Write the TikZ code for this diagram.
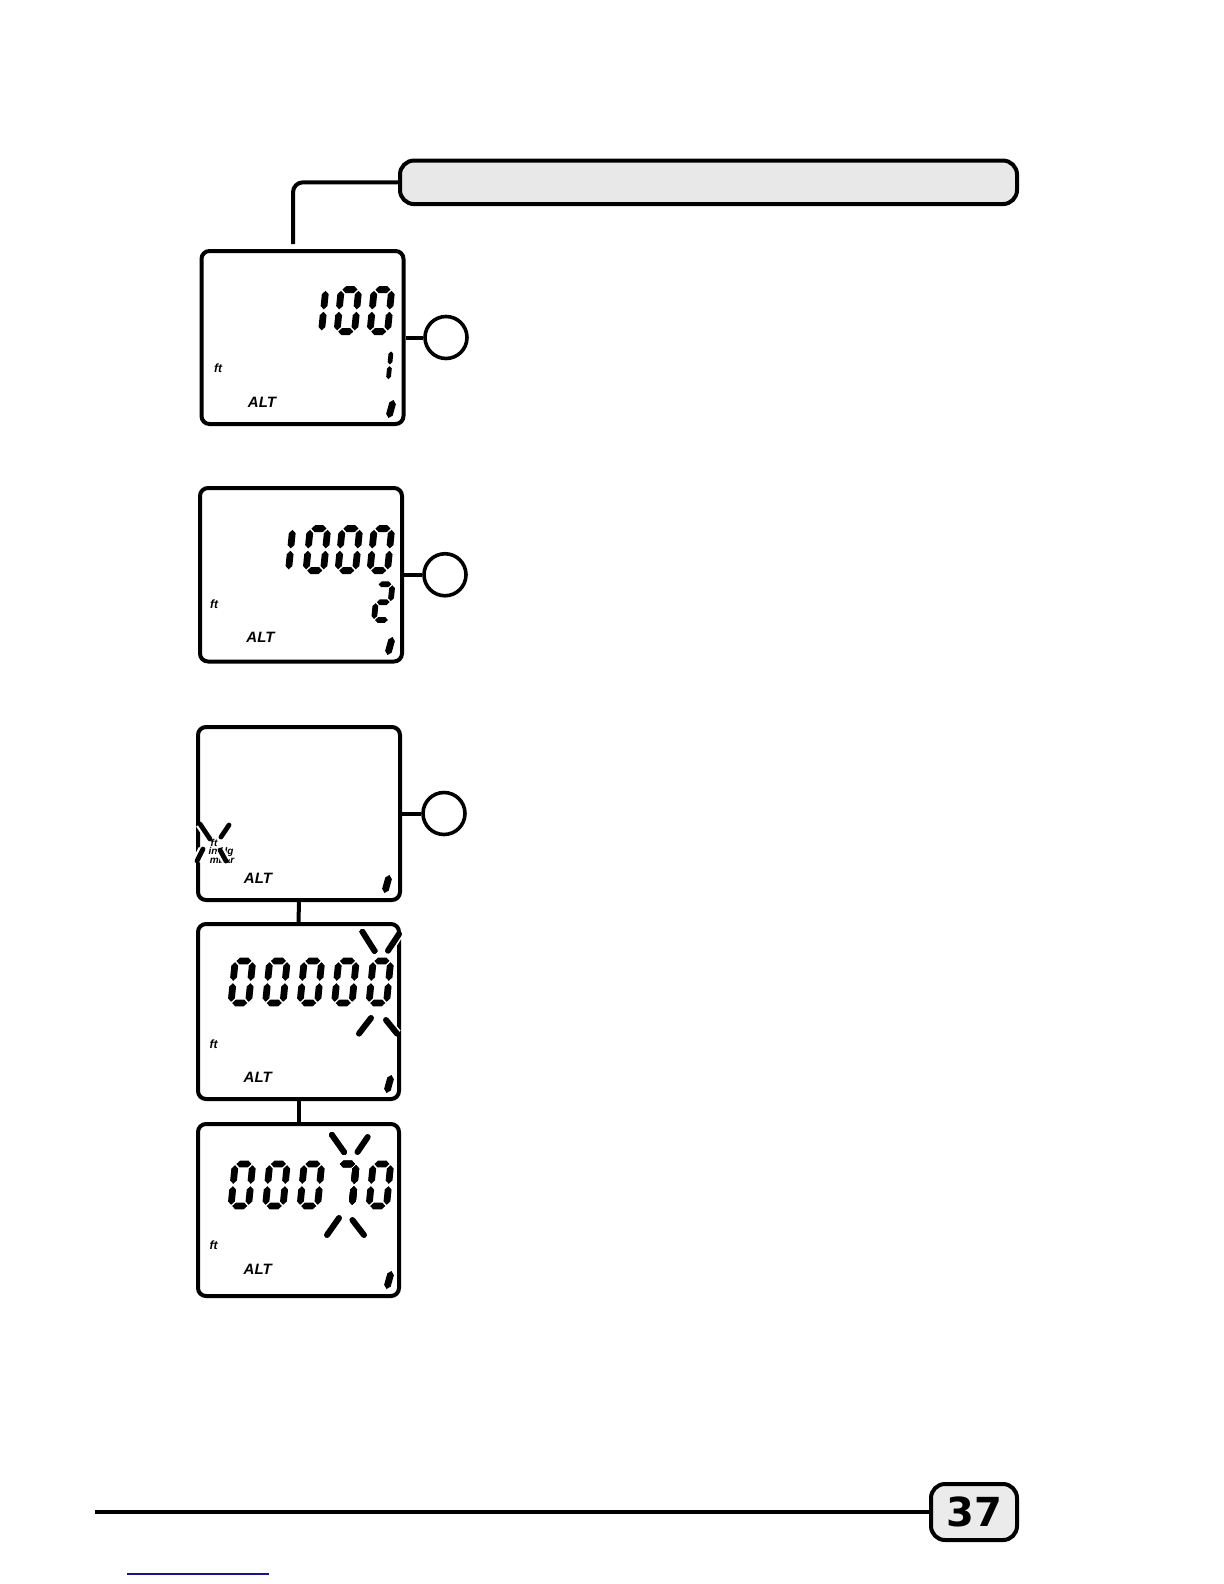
\documentclass[tikz,border=0pt]{standalone}
\usepackage{fontspec}
\setsansfont{Liberation Sans}
\newfontfamily\pagenumfont{DejaVu Sans}
\usetikzlibrary{calc}
\definecolor{linkblue}{RGB}{22,22,140}

% one LCD segment: pointed bar from #1 to #2
\newcommand\segt{1.7pt}
\newcommand\lcdseg[2]{%
  \fill ($(#1)$) -- ($(#1)!\segt!(#2)!\segt!90:(#2)$)
    -- ($(#2)!\segt!(#1)!\segt!-90:(#1)$) -- ($(#2)$)
    -- ($(#2)!\segt!(#1)!\segt!90:(#1)$)
    -- ($(#1)!\segt!(#2)!\segt!-90:(#2)$) -- cycle;}
\newcommand\lcdsa{\lcdseg{1.2,-42}{16.3,-42}}
\newcommand\lcdsb{\lcdseg{17.5,-40.8}{17.5,-22.2}}
\newcommand\lcdsc{\lcdseg{17.5,-19.8}{17.5,-1.2}}
\newcommand\lcdsd{\lcdseg{1.2,0}{16.3,0}}
\newcommand\lcdse{\lcdseg{0,-19.8}{0,-1.2}}
\newcommand\lcdsf{\lcdseg{0,-40.8}{0,-22.2}}
\newcommand\lcdsg{\lcdseg{1.2,-21}{16.3,-21}}
% seven-segment digit, origin at bottom left
\newcommand\lcddigit[3][1]{%
  \begin{scope}[shift={(#2)}, scale=#1, xslant=0.1]
    \foreach \s in {#3} {\csname lcds\s\endcsname}
  \end{scope}}

\begin{document}
\begin{tikzpicture}[x=0.5pt, y=-0.5pt,
  lcd/.style={draw, line width=2pt, rounded corners=4pt, fill=white,
              minimum width=101pt, inner sep=0pt},
  knob/.style={draw, circle, line width=1.8pt, minimum size=21pt, inner sep=0pt},
  wire/.style={line width=2pt},
  bar/.style={draw, line width=2pt, rounded corners=7pt, fill=black!9,
              minimum width=308.5pt, minimum height=21.75pt, inner sep=0pt},
  pagebox/.style={draw, line width=2pt, rounded corners=7pt, fill=black!8,
              minimum width=43pt, minimum height=28pt, inner sep=0pt,
              font=\pagenumfont\bfseries\fontsize{20}{20}\selectfont},
  flash/.style={line width=3pt, line cap=round,
              preaction={draw, white, line width=4.6pt}},
  lbl/.style={font=\sffamily\bfseries\itshape\fontsize{7.5}{8}\selectfont, inner sep=0pt},
  unit/.style={font=\sffamily\bfseries\itshape\fontsize{6}{6}\selectfont, inner sep=0pt},
  tiny/.style={font=\sffamily\bfseries\itshape\fontsize{5}{5}\selectfont, inner sep=0pt}
]
  \useasboundingbox (0,0) rectangle (1224,1584);

  % header bar
  \node[bar] (title) at (708.5,182.3) {};
  \coordinate (t1) at (293,244);
  \draw[wire, rounded corners=5pt] (t1) |- (title.west);

  % display 1
  \node[lcd, minimum height=86.5pt] (d1) at (302.5,337.5) {};
  \node[knob] (k1) at (446,337.5) {};
  \draw[wire] (d1.east) -- (k1.west);
  \lcddigit{304,331.6}{b,c}
  \lcddigit{337,331.6}{a,b,c,d,e,f}
  \lcddigit{370,331.6}{a,b,c,d,e,f}
  \lcddigit[0.7]{376,380}{b,c}
  \lcdseg{388.5,418}{393.5,400}
  \node[unit] (ft1) at (218,368) {ft};
  \node[lbl] (alt1) at (262,402) {ALT};

  % display 2
  \node[lcd, minimum height=86.75pt] (d2) at (301,574.75) {};
  \node[knob] (k2) at (445,574.75) {};
  \draw[wire] (d2.east) -- (k2.west);
  \lcddigit{271,570.6}{b,c}
  \lcddigit{306,570.6}{a,b,c,d,e,f}
  \lcddigit{338,570.6}{a,b,c,d,e,f}
  \lcddigit{370,570.6}{a,b,c,d,e,f}
  \lcddigit[0.85]{374,620}{a,b,g,e,d}
  \lcdseg{387.5,655}{392.5,637}
  \node[unit] (ft2) at (214,604) {ft};
  \node[lbl] (alt2) at (260.5,637) {ALT};

  % display 3
  \node[lcd, minimum height=86.5pt] (d3) at (299,813.5) {};
  \node[knob] (k3) at (444,813.5) {};
  \draw[wire] (d3.east) -- (k3.west);
  \node[tiny] (ft3) at (214,843) {ft};
  \node[tiny] (inhg3) at (221,852) {in Hg};
  \node[tiny] (mbar3) at (222,860) {mbar};
  \draw[flash, line width=2.4pt] (200,824) -- (210,839);
  \draw[flash, line width=2.4pt] (229,825) -- (221,837);
  \draw[flash, line width=2.4pt] (197,861) -- (203,849);
  \draw[flash, line width=2.4pt] (226,861) -- (220,850);
  \node[lbl] (alt3) at (258,878) {ALT};
  \lcdseg{384.5,893}{389.5,875}

  % display 4
  \node[lcd, minimum width=100.5pt, minimum height=87.5pt] (d4) at (298.5,1011.5) {};
  \draw[wire] (d3.south) -- (d4.north);
  \foreach \dx in {231,265.5,300,334.5,369}
    \lcddigit{\dx,1003}{a,b,c,d,e,f}
  \draw[flash] (362.6,932) -- (374.4,950.7);
  \draw[flash] (399,934) -- (388,950.7);
  \draw[flash] (359,1033.6) -- (371,1018);
  \draw[flash] (397,1033.6) -- (386,1020);
  \node[unit] (ft4) at (213.7,1044) {ft};
  \node[lbl] (alt4) at (257.7,1077.6) {ALT};
  \lcdseg{386.5,1093}{391.5,1075}

  % display 5
  \node[lcd, minimum width=100.5pt, minimum height=86pt] (d5) at (298.5,1210) {};
  \draw[wire] (d4.south) -- (d5.north);
  \foreach \dx in {231,265.5,300,369}
    \lcddigit{\dx,1206}{a,b,c,d,e,f}
  \lcddigit{334.5,1206}{a,b,c}
  \draw[flash] (332,1135) -- (344,1152);
  \draw[flash] (367.7,1137) -- (357.5,1152);
  \draw[flash] (327,1235) -- (339,1218);
  \draw[flash] (364,1235) -- (352.4,1220);
  \node[unit] (ft5) at (213.7,1245) {ft};
  \node[lbl] (alt5) at (257.7,1269) {ALT};
  \lcdseg{386.5,1289}{391.5,1271}

  % footer
  \node[pagebox] (pg) at (974,1512) {37};
  \coordinate (f0) at (95,1512);
  \draw[wire] (f0) -- (pg.west);
  \draw[linkblue, line width=0.8pt] (127,1574) -- (269,1574);
\end{tikzpicture}
\end{document}
